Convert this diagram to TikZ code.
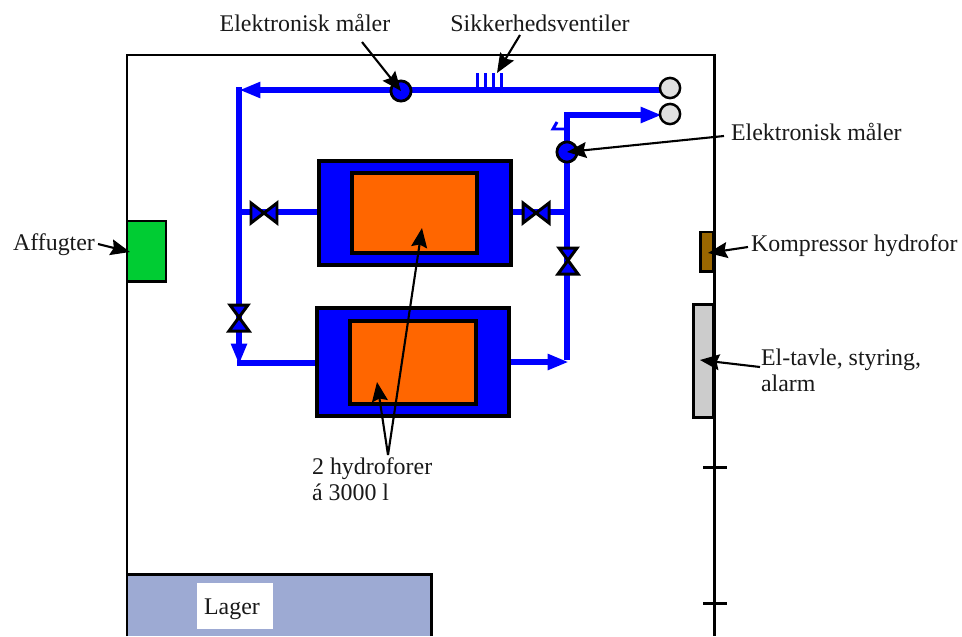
\documentclass[tikz,border=0pt]{standalone}
\usepackage{fontspec}
\setmainfont{Liberation Serif}
\usepackage{xcolor}
\usetikzlibrary{arrows.meta,positioning}
\definecolor{pipeblue}{RGB}{0,0,255}
\definecolor{tankorange}{RGB}{255,102,0}
\definecolor{dryergreen}{RGB}{0,204,51}
\definecolor{compbrown}{RGB}{153,102,0}
\definecolor{storeblue}{RGB}{157,170,211}
\begin{document}
\begin{tikzpicture}[x=0.02cm,y=-0.02cm,font=\fontsize{13.6}{14.8}\selectfont,
  wall/.style={line width=1.7pt, black},
  pipe/.style={line width=3.4pt, pipeblue},
  thin pipe/.style={line width=1.7pt, pipeblue},
  flow/.style={pipe, -{Triangle[length=12pt,width=8.5pt]}, shorten >=-1pt},
  box/.style={draw=black, line width=2pt},
  unit/.style={draw=black, line width=1.7pt},
  ptr/.style={-{Stealth[length=11pt,width=9pt,inset=1.5pt]}, line width=1.2pt, black},
  lbl/.style={inner sep=1pt, text=black!90},
  meter/.style={circle, draw=black, line width=1.6pt, fill=pipeblue, minimum size=11.5pt, inner sep=0pt},
  gauge/.style={circle, draw=black, line width=1.4pt, fill=black!12, minimum size=11.5pt, inner sep=0pt},
  valve/.style={draw=black, line width=1.7pt, fill=pipeblue, line join=miter}]
\useasboundingbox (0,0) rectangle (962,636);
% ================= building =================
\fill[storeblue] (127,574) rectangle (431,636);
\draw[wall] (431,636) -- (431,574) -- (127,574);
\fill[white] (197,583) rectangle (273,629);
\node[lbl] (lager) at (232,609) {Lager};
\draw[wall] (127,636) -- (127,55) -- (714,55) -- (714,636);
\draw[wall] (703,467) -- (727,467);
\draw[wall] (703,603) -- (727,603);
% wall units
\draw[unit, fill=dryergreen] (127,221) rectangle (166,281);
\coordinate (dryer) at (130,252);
\draw[unit, fill=compbrown] (700,232) rectangle (713,271);
\coordinate (comp) at (708,253);
\draw[unit, fill=black!20] (693,304) rectangle (713,417);
\coordinate (panel) at (700,360);
% ================= pipes =================
\draw[flow] (661,90) -- (241,90);
\draw[pipe] (239,87) -- (239,320);
\draw[flow] (239,320) -- (239,363);
\draw[pipe] (237,363) -- (320,363);
\draw[pipe] (239,212) -- (320,212);
\draw[flow] (505,362) -- (567,362);
\draw[pipe] (567,360) -- (567,112);
\draw[flow] (564,115) -- (660,115);
\draw[pipe] (508,212) -- (567,212);
\draw[thin pipe] (566,129) -- (553,129) -- (557,122);
% safety valves
\foreach \x in {477,485,493,501}
  \draw[thin pipe] (\x,90) -- (\x,73);
% hand valves
\foreach \x/\y in {264/213, 536/213}
  \draw[valve] (\x-13,\y-10) -- (\x+13,\y+10) -- (\x+13,\y-10) -- (\x-13,\y+10) -- cycle;
\foreach \x/\y in {239/318, 568/261}
  \draw[valve] (\x-9,\y-13) -- (\x+10,\y+13) -- (\x-10,\y+13) -- (\x+9,\y-13) -- cycle;
% meters and gauges
\node[meter] (meterA) at (401,91) {};
\node[meter] (meterB) at (567,152) {};
\node[gauge] (gaugeA) at (670,88) {};
\node[gauge] (gaugeB) at (670,114) {};
% ================= tanks =================
\draw[box, fill=pipeblue] (319,161) rectangle (511,265);
\draw[box, fill=tankorange] (352,173) rectangle (477,253);
\coordinate (tankA) at (422,228);
\draw[box, fill=pipeblue] (317,308) rectangle (509,416);
\draw[box, fill=tankorange] (350,321) rectangle (476,404);
\coordinate (tankB) at (377,382);
% ================= labels =================
\node[lbl] (lblmeterA) at (305,23) {Elektronisk måler};
\node[lbl] (lblvalves) at (540,23) {Sikkerhedsventiler};
\node[lbl, right] (lblmeterB) at (729,132) {Elektronisk måler};
\node[lbl, right] (lbldryer) at (11,245) {Affugter};
\node[lbl, right] (lblcomp) at (749,246) {Kompressor hydrofor};
\node[lbl, right, align=left] (lblpanel) at (759,370) {El-tavle, styring,\\alarm};
\node[lbl, right, align=left] (lbltanks) at (310,479) {2 hydroforer\\á 3000 l};
\coordinate (valvetop) at (497,73);
\coordinate (tankfork) at (388,455);
% pointers
\draw[ptr] (362,42) -- (meterA.center);
\draw[ptr] (520,35) -- (valvetop);
\draw[ptr] (lblmeterB.west) ++(-5,4) -- (meterB.center);
\draw[ptr] (lbldryer.east) ++(1,-1) -- (dryer);
\draw[ptr] (lblcomp.west) ++(-1,1) -- (comp);
\draw[ptr] (lblpanel.west) ++(1,-3) -- (panel);
\draw[ptr] (tankfork) -- (tankA);
\draw[ptr] (tankfork) -- (tankB);
\end{tikzpicture}
\end{document}
